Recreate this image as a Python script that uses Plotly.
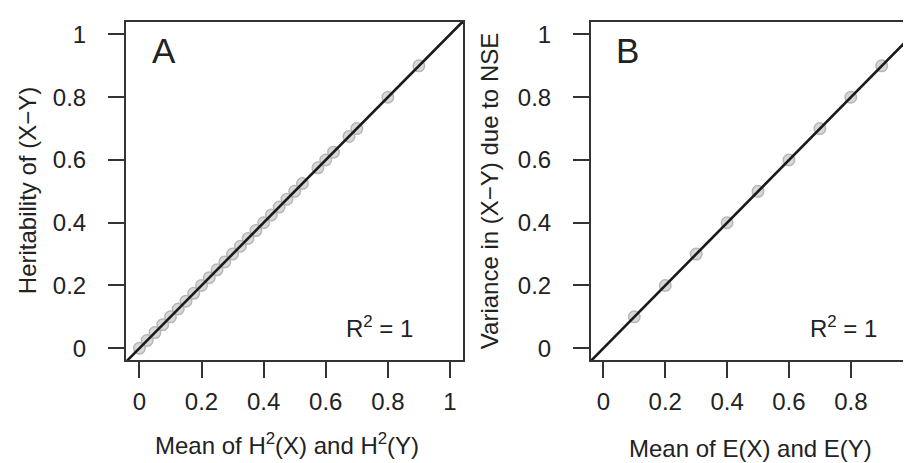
import plotly.graph_objects as go

# ---- data ----
a_x = [0, 0.025, 0.05, 0.075, 0.1, 0.125, 0.15, 0.175, 0.2, 0.225, 0.25, 0.275,
       0.3, 0.325, 0.35, 0.375, 0.4, 0.425, 0.45, 0.475, 0.5, 0.525,
       0.575, 0.6, 0.625, 0.675, 0.7, 0.8, 0.9]
a_y = [0, 0.025, 0.05, 0.075, 0.1, 0.125, 0.15, 0.175, 0.2, 0.225, 0.25, 0.275,
       0.3, 0.325, 0.35, 0.375, 0.4, 0.425, 0.45, 0.475, 0.5, 0.525,
       0.575, 0.6, 0.625, 0.675, 0.7, 0.8, 0.9]
b_x = [0.1, 0.2, 0.3, 0.4, 0.5, 0.6, 0.7, 0.8, 0.9]
b_y = [0.1, 0.2, 0.3, 0.4, 0.5, 0.6, 0.7, 0.8, 0.9]
fit_intercept = 0.0
fit_slope = 1.0
tick_vals = [0, 0.2, 0.4, 0.6, 0.8, 1]
tick_text = ["0", "0.2", "0.4", "0.6", "0.8", "1"]

FONT = "Liberation Sans, Arial, sans-serif"
TXT = "#222222"
FS = 24

fig = go.Figure()

line_x = [-0.1, 1.1]
line_y = [fit_intercept + fit_slope * v for v in line_x]

marker = dict(size=11.5, color="#d8d8d8", line=dict(color="#b6b6b6", width=1.5))

fig.add_trace(go.Scatter(x=a_x, y=a_y, mode="markers", marker=marker,
                         xaxis="x", yaxis="y", showlegend=False))
fig.add_trace(go.Scatter(x=line_x, y=line_y, mode="lines",
                         line=dict(color="#1a1a1a", width=2.6),
                         xaxis="x", yaxis="y", showlegend=False))
fig.add_trace(go.Scatter(x=b_x, y=b_y, mode="markers", marker=marker,
                         xaxis="x2", yaxis="y2", showlegend=False))
fig.add_trace(go.Scatter(x=line_x, y=line_y, mode="lines",
                         line=dict(color="#1a1a1a", width=2.6),
                         xaxis="x2", yaxis="y2", showlegend=False))

axis_common = dict(
    showgrid=False, zeroline=False, showline=True, linecolor="#333333", linewidth=1.5,
    ticks="outside", ticklen=16, tickwidth=1.5, tickcolor="#333333",
    tickvals=tick_vals, ticktext=tick_text,
    tickfont=dict(family=FONT, size=FS, color=TXT),
    ticklabeloverflow="allow",
)

y_dom = [1 - 353 / 463, 1 - 13 / 463]

fig.update_layout(
    width=911, height=463,
    margin=dict(l=0, r=0, t=0, b=0),
    paper_bgcolor="white", plot_bgcolor="white",
    xaxis=dict(axis_common, domain=[118 / 911, 456 / 911], range=[-0.044, 1.042],
               mirror=True, anchor="y", ticklabelstandoff=3),
    yaxis=dict(axis_common, domain=y_dom, range=[-0.039, 1.04],
               mirror=True, anchor="x", ticklabelstandoff=17),
    xaxis2=dict(axis_common, domain=[584 / 911, 1.0], range=[-0.041, 1.014],
                mirror=True, anchor="y2", ticklabelstandoff=3),
    yaxis2=dict(axis_common, domain=y_dom, range=[-0.039, 1.04],
                mirror=False, anchor="x2", ticklabelstandoff=17),
)

def ann(text, x, y, size=FS, angle=0, xanchor="center", yanchor="middle"):
    fig.add_annotation(text=text, x=x, y=y, xref="paper", yref="paper",
                       showarrow=False, textangle=angle,
                       xanchor=xanchor, yanchor=yanchor,
                       font=dict(family=FONT, size=size, color=TXT))

# axis titles
ann("Mean of H<sup>2</sup>(X) and H<sup>2</sup>(Y)", 280 / 911, 1 - 437 / 463)
ann("Mean of E(X) and E(Y)", 744 / 911, 1 - 441 / 463)
ann("Heritability of (X\u2212Y)", 19 / 911, 1 - 182 / 463, angle=-90)
ann("Variance in (X\u2212Y) due to NSE", 482 / 911, 1 - 183 / 463, angle=-90)

# panel letters
ann("A", 156 / 911, 1 - 42 / 463, size=35)
ann("B", 621 / 911, 1 - 42 / 463, size=35)

# R^2 labels
ann("R<sup>2</sup> = 1", 372 / 911, 1 - 319 / 463)
ann("R<sup>2</sup> = 1", 837 / 911, 1 - 319 / 463)

fig.write_html("out.html")
